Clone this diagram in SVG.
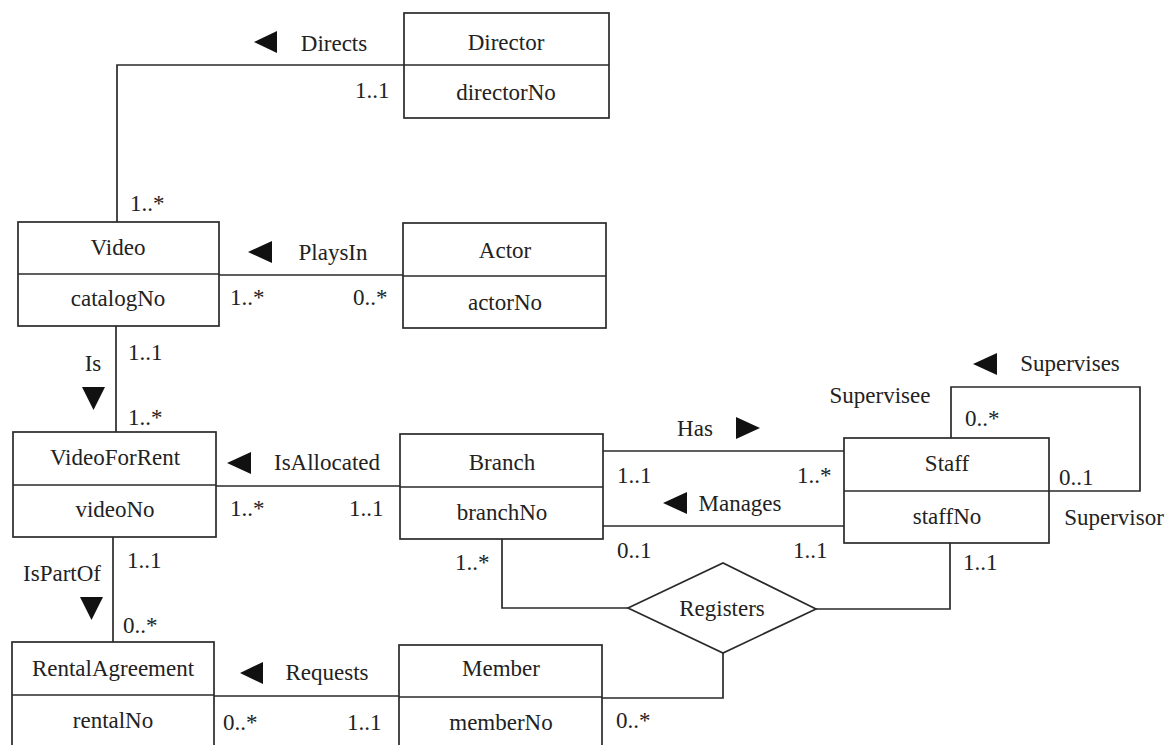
<svg xmlns="http://www.w3.org/2000/svg" width="1173" height="745" viewBox="0 0 1173 745">
<style>
text{font-family:"Liberation Serif","Times New Roman",serif;font-size:23px;fill:#222}
.c{text-anchor:middle}
.box{fill:#fff;stroke:#2a2a2a;stroke-width:1.7}
.ln{fill:none;stroke:#2a2a2a;stroke-width:1.7}
.ar{fill:#111}
</style>
<rect width="1173" height="745" fill="#fff"/>
<g id="connectors">
<polyline class="ln" points="404,65 117,65 117,222"/>
<line class="ln" x1="219" y1="275" x2="403" y2="275"/>
<line class="ln" x1="116" y1="326" x2="116" y2="432"/>
<line class="ln" x1="216" y1="486" x2="400" y2="486"/>
<line class="ln" x1="113" y1="537" x2="113" y2="642"/>
<line class="ln" x1="214" y1="696" x2="399" y2="696"/>
<line class="ln" x1="603" y1="451" x2="844" y2="451"/>
<line class="ln" x1="603" y1="526" x2="844" y2="526"/>
<polyline class="ln" points="951,438 951,387 1140,387 1140,491 1049,491"/>
<polyline class="ln" points="502,539 502,608 628,608"/>
<polyline class="ln" points="816,609 950,609 950,543"/>
<polyline class="ln" points="723,653 723,698 602,698"/>
<polygon class="ar" points="254,42 277,31 277,53"/>
<polygon class="ar" points="248,252 272,241 272,263"/>
<polygon class="ar" points="227,463 251,452 251,474"/>
<polygon class="ar" points="240,673 263,662 263,684"/>
<polygon class="ar" points="760,428 736,417 736,439"/>
<polygon class="ar" points="663,503 687,492 687,514"/>
<polygon class="ar" points="973,364 997,353 997,375"/>
<polygon class="ar" points="82,387 105,387 93.5,410"/>
<polygon class="ar" points="80,597 103,597 91.5,620"/>
<text class="c" x="334" y="51">Directs</text>
<text x="355" y="98">1..1</text>
<text x="130" y="211">1..*</text>
<text class="c" x="333" y="260">PlaysIn</text>
<text x="230" y="305">1..*</text>
<text x="353" y="305">0..*</text>
<text class="c" x="93" y="371">Is</text>
<text x="128" y="360">1..1</text>
<text x="128" y="425">1..*</text>
<text class="c" x="327" y="470">IsAllocated</text>
<text x="230" y="516">1..*</text>
<text x="349" y="516">1..1</text>
<text class="c" x="62" y="581">IsPartOf</text>
<text x="127" y="568">1..1</text>
<text x="123" y="633">0..*</text>
<text class="c" x="327" y="680">Requests</text>
<text x="223" y="730">0..*</text>
<text x="347" y="730">1..1</text>
<text class="c" x="695" y="436">Has</text>
<text x="617" y="483">1..1</text>
<text x="797" y="483">1..*</text>
<text class="c" x="740" y="511">Manages</text>
<text x="617" y="558">0..1</text>
<text x="793" y="558">1..1</text>
<text class="c" x="880" y="403">Supervisee</text>
<text x="965" y="426">0..*</text>
<text class="c" x="1070" y="371">Supervises</text>
<text x="1059" y="485">0..1</text>
<text class="c" x="1114" y="525">Supervisor</text>
<text x="963" y="570">1..1</text>
<text x="455" y="570">1..*</text>
<text x="616" y="728">0..*</text>
</g>
<g id="Registers">
<polygon class="box" points="628,608 723,563 816,609 723,653"/>
<text class="c" x="722" y="616">Registers</text>
</g>
<g id="Director">
<rect class="box" x="404" y="13" width="205" height="105"/>
<line class="ln" x1="404" y1="65" x2="609" y2="65"/>
<text class="c" x="506" y="50">Director</text>
<text class="c" x="506" y="100">directorNo</text>
</g>
<g id="Video">
<rect class="box" x="18" y="222" width="201" height="104"/>
<line class="ln" x1="18" y1="274" x2="219" y2="274"/>
<text class="c" x="118" y="255">Video</text>
<text class="c" x="118" y="306">catalogNo</text>
</g>
<g id="Actor">
<rect class="box" x="403" y="223" width="203" height="105"/>
<line class="ln" x1="403" y1="276" x2="606" y2="276"/>
<text class="c" x="505" y="258">Actor</text>
<text class="c" x="505" y="310">actorNo</text>
</g>
<g id="VideoForRent">
<rect class="box" x="13" y="432" width="203" height="105"/>
<line class="ln" x1="13" y1="485" x2="216" y2="485"/>
<text class="c" x="115" y="465">VideoForRent</text>
<text class="c" x="115" y="517">videoNo</text>
</g>
<g id="Branch">
<rect class="box" x="400" y="434" width="203" height="105"/>
<line class="ln" x1="400" y1="487" x2="603" y2="487"/>
<text class="c" x="502" y="470">Branch</text>
<text class="c" x="502" y="520">branchNo</text>
</g>
<g id="Staff">
<rect class="box" x="844" y="438" width="205" height="105"/>
<line class="ln" x1="844" y1="491" x2="1049" y2="491"/>
<text class="c" x="947" y="471">Staff</text>
<text class="c" x="947" y="524">staffNo</text>
</g>
<g id="RentalAgreement">
<rect class="box" x="12" y="642" width="202" height="115"/>
<line class="ln" x1="12" y1="695" x2="214" y2="695"/>
<text class="c" x="113" y="676">RentalAgreement</text>
<text class="c" x="113" y="728">rentalNo</text>
</g>
<g id="Member">
<rect class="box" x="399" y="645" width="203" height="115"/>
<line class="ln" x1="399" y1="697" x2="602" y2="697"/>
<text class="c" x="501" y="676">Member</text>
<text class="c" x="501" y="730">memberNo</text>
</g>
</svg>
